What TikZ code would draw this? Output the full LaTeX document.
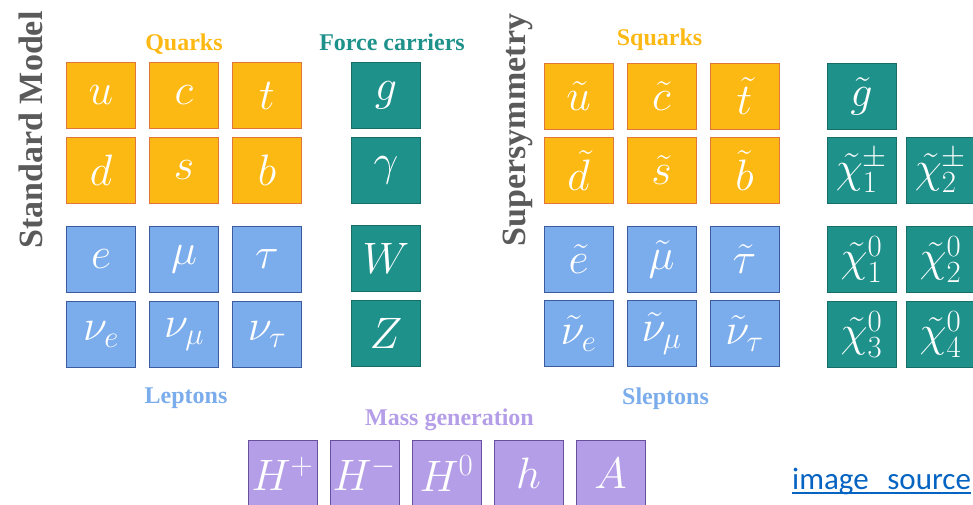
\RequirePackage{fix-cm}
\documentclass[tikz,border=0pt]{standalone}
\usepackage{fontspec}
\setmainfont{Liberation Serif}
\newfontfamily\srcfont{Carlito}
\usetikzlibrary{positioning}
\definecolor{pQuark}{HTML}{FDB913}
\definecolor{pQuarkEdge}{HTML}{E0763A}
\definecolor{pLepton}{HTML}{7BACEB}
\definecolor{pLeptonEdge}{HTML}{3B5B9C}
\definecolor{pBoson}{HTML}{1F918B}
\definecolor{pBosonEdge}{HTML}{176E69}
\definecolor{pHiggs}{HTML}{B59EE8}
\definecolor{pHiggsEdge}{HTML}{6A4F9E}
\definecolor{pTitle}{HTML}{5A5A5A}
\definecolor{pLink}{HTML}{0563C1}
\tikzset{
    pBoxBase/.style={
        rectangle,
        draw,
        line width=1pt,
        minimum width=69pt,
        minimum height=66pt,
        inner sep=0pt,
        text=white,
        font=\fontsize{44}{44}\selectfont
    },
    % particle families
    quark/.style={pBoxBase, fill=pQuark, draw=pQuarkEdge},
    lepton/.style={pBoxBase, fill=pLepton, draw=pLeptonEdge},
    boson/.style={pBoxBase, fill=pBoson, draw=pBosonEdge},
    higgs/.style={pBoxBase, fill=pHiggs, draw=pHiggsEdge},
    % texts
    groupLabel/.style={font=\fontsize{24}{24}\selectfont\bfseries, inner sep=0pt},
    sideTitle/.style={font=\fontsize{34}{34}\selectfont\bfseries, text=pTitle, rotate=90, anchor=base, inner sep=0pt},
    srcLink/.style={font=\srcfont\fontsize{31}{31}\selectfont, text=pLink, inner sep=0pt}
}

\begin{document}
\begin{tikzpicture}[x=1pt, y=-1pt]
\useasboundingbox (0,0) rectangle (973,504);
\clip (0,0) rectangle (973,504);

% Standard Model
\node[quark] (u) at (101,95.5) {$u$};
\node[quark, right=13pt of u] (c) {$c$};
\node[quark, right=13pt of c] (t) {$t$};
\node[quark, below=8pt of u] (d) {$d$};
\node[quark, right=13pt of d] (s) {$s$};
\node[quark, right=13pt of s] (b) {$b$};
\node[lepton, below=22pt of d] (e) {$e$};
\node[lepton, right=13pt of e] (mu) {$\mu$};
\node[lepton, right=13pt of mu] (tau) {$\tau$};
\node[lepton, below=8pt of e] (nue) {$\nu_e$};
\node[lepton, right=13pt of nue] (numu) {$\nu_\mu$};
\node[lepton, right=13pt of numu] (nutau) {$\nu_\tau$};
\node[boson, right=49pt of t] (g) {$g$};
\node[boson, below=8pt of g] (gam) {$\gamma$};
\node[boson, below=21pt of gam] (W) {$W$};
\node[boson, below=8pt of W] (Z) {$Z$};

% Supersymmetry
\node[quark] (su) at (578.5,96.5) {$\tilde{u}$};
\node[quark, right=13pt of su] (sc) {$\tilde{c}$};
\node[quark, right=13pt of sc] (st) {$\tilde{t}$};
\node[quark, below=7pt of su] (sd) {$\tilde{d}$};
\node[quark, right=13pt of sd] (ss) {$\tilde{s}$};
\node[quark, right=13pt of ss] (sb) {$\tilde{b}$};
\node[lepton, below=22pt of sd] (se) {$\tilde{e}$};
\node[lepton, right=13pt of se] (smu) {$\tilde{\mu}$};
\node[lepton, right=13pt of smu] (stau) {$\tilde{\tau}$};
\node[lepton, below=7pt of se] (snue) {$\tilde{\nu}_e$};
\node[lepton, right=13pt of snue] (snumu) {$\tilde{\nu}_\mu$};
\node[lepton, right=13pt of snumu] (snutau) {$\tilde{\nu}_\tau$};
\node[boson, right=47pt of st] (sg) {$\tilde{g}$};
\node[boson, below=7pt of sg] (cha1) {$\tilde{\chi}^\pm_1$};
\node[boson, right=9pt of cha1] (cha2) {$\tilde{\chi}^\pm_2$};
\node[boson, below=22pt of cha1] (neu1) {$\tilde{\chi}^0_1$};
\node[boson, right=9pt of neu1] (neu2) {$\tilde{\chi}^0_2$};
\node[boson, below=8pt of neu1] (neu3) {$\tilde{\chi}^0_3$};
\node[boson, right=9pt of neu3] (neu4) {$\tilde{\chi}^0_4$};

% Higgs sector
\node[higgs] (Hp) at (282.5,473.5) {$H^+$};
\node[higgs, right=12pt of Hp] (Hm) {$H^-$};
\node[higgs, right=12pt of Hm] (H0) {$H^0$};
\node[higgs, right=12pt of H0] (h) {$h$};
\node[higgs, right=12pt of h] (A) {$A$};

% group labels
\node[groupLabel, text=pQuark, above=12pt of c, anchor=base] (quarks) {Quarks};
\node[groupLabel, text=pBoson, above=12pt of g, anchor=base, xshift=6pt] (force) {Force carriers};
\node[groupLabel, text=pLepton, below=35pt of numu, anchor=base, xshift=2pt] (leptons) {Leptons};
\node[groupLabel, text=pHiggs, above=15pt of H0, anchor=base, xshift=3pt] (mass) {Mass generation};
\node[groupLabel, text=pQuark, above=18pt of sc, anchor=base, xshift=-2pt] (squarks) {Squarks};
\node[groupLabel, text=pLepton, below=37pt of snumu, anchor=base, xshift=4pt] (sleptons) {Sleptons};
\node[sideTitle] (sm) at (42,130) {Standard Model};
\node[sideTitle] (susy) at (525,130) {Supersymmetry};

% link
\node[srcLink, anchor=base west] (src) at (792,489) {image\hspace{0.6em}source};
\draw[pLink, line width=1.5pt] ([yshift=-4pt]src.base west) -- ([yshift=-4pt]src.base east);
\end{tikzpicture}
\end{document}
